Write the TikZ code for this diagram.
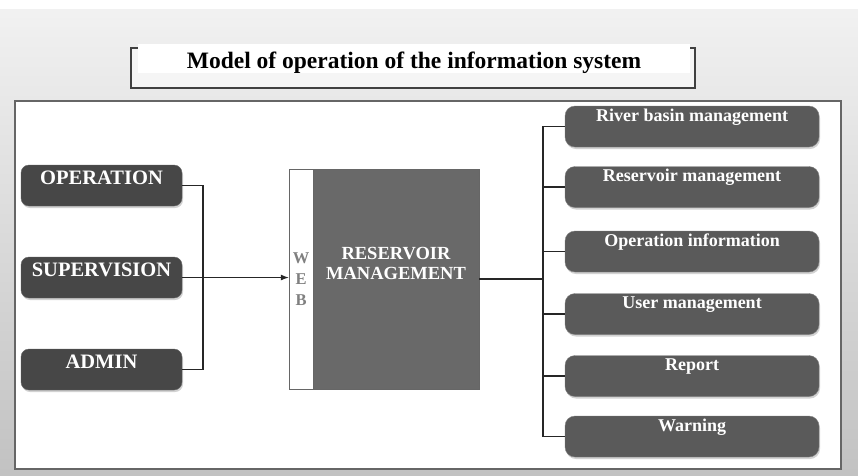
\documentclass[tikz,border=0pt]{standalone}
\usepackage{fontspec}
\setmainfont{Liberation Serif}
\usetikzlibrary{shadows,arrows.meta}
\definecolor{lboxc}{HTML}{474747}
\definecolor{rboxc}{HTML}{5A5A5A}
\definecolor{mainc}{HTML}{696969}
\begin{document}
\begin{tikzpicture}[x=1pt,y=-1pt,
  lbox/.style={rounded corners=8pt, fill=lboxc, draw=black!60, text=white,
    minimum width=161pt, inner xsep=0pt, inner ysep=6pt,
    text height=13.5pt, text depth=15.5pt,
    font=\bfseries\fontsize{20.5}{21}\selectfont,
    drop shadow={shadow xshift=1pt, shadow yshift=-2pt, opacity=.35}},
  rbox/.style={rounded corners=10pt, fill=rboxc, draw=black!50, text=white,
    minimum width=254pt, inner xsep=0pt, inner ysep=3pt,
    text height=12pt, text depth=23pt,
    font=\bfseries\fontsize{18}{19}\selectfont,
    drop shadow={shadow xshift=1pt, shadow yshift=-2pt, opacity=.35}},
  conn/.style={draw=black!85, line width=1.1pt}
]
\useasboundingbox (0,0) rectangle (858,475);
% background
\shade[top color=black!5, bottom color=black!24] (0,0) rectangle (858,475);
\fill[white] (0,0) rectangle (858,9);
% title frame
\draw[fill=black!4, draw=black!75, line width=1.2pt] (131,48) rectangle (695,88);
\node[fill=white, anchor=north, minimum width=552pt, inner sep=0pt,
  text height=24pt, text depth=5pt,
  font=\bfseries\fontsize{23.5}{25}\selectfont] (title) at (414,44)
  {Model of operation of the information system};
% panel
\draw[fill=white, draw=black!60, line width=1.2pt] (15,101) rectangle (841,469);
% left boxes
\node[lbox] (op)  at (101.5,185.5) {OPERATION};
\node[lbox] (sup) at (101.5,277.5) {SUPERVISION};
\node[lbox] (adm) at (101.5,369.5) {ADMIN};
% central block
\node[draw=black!60, fill=white, minimum width=24pt, minimum height=220pt,
  inner sep=0pt, align=center, text=black!50,
  font=\bfseries\fontsize{16.5}{21}\selectfont] (web) at (301,279) {W\\E\\B};
\node[draw=black!60, fill=mainc, minimum width=166pt, minimum height=220pt,
  inner sep=0pt] (main) at (396,279) {};
\node[text=white, align=center, font=\bfseries\fontsize{18.5}{20}\selectfont]
  (rmtext) at (396,263) {RESERVOIR\\MANAGEMENT};
% right boxes
\node[rbox] (riv)  at (692,126.5) {River basin management};
\node[rbox] (res)  at (692,187)   {Reservoir management};
\node[rbox] (opi)  at (692,251.5) {Operation information};
\node[rbox] (usr)  at (692,314)   {User management};
\node[rbox] (rep)  at (692,376)   {Report};
\node[rbox] (warn) at (692,436.5) {Warning};
% connectors left
\coordinate (jl) at (203,277.5);
\draw[conn] (op.east) -| (jl) |- (adm.east);
\draw[conn, -{Latex[length=8pt,width=6pt]}] (sup.east) -- (web.west |- sup.east);
% connectors right
\coordinate (jr) at (543,279);
\draw[conn] (main.east |- jr) -- (jr);
\draw[conn] (riv.west) -| (jr) |- (warn.west);
\draw[conn] (res.west) -- (res.west -| jr);
\draw[conn] (opi.west) -- (opi.west -| jr);
\draw[conn] (usr.west) -- (usr.west -| jr);
\draw[conn] (rep.west) -- (rep.west -| jr);
\end{tikzpicture}
\end{document}
